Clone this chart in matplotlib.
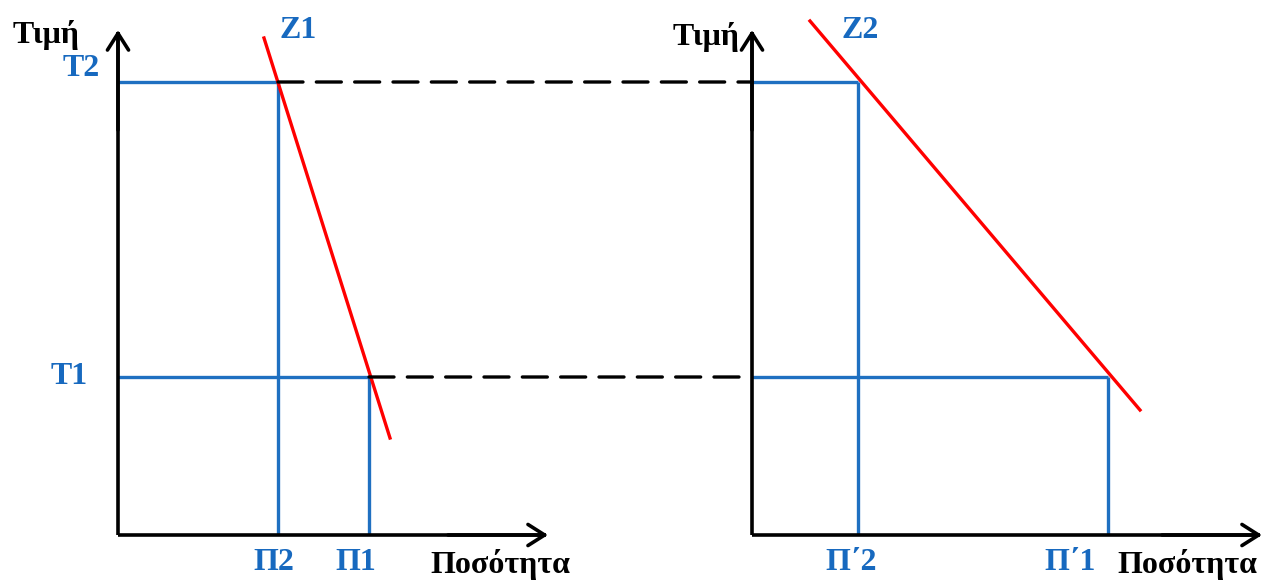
import matplotlib
matplotlib.use("Agg")
import matplotlib.pyplot as plt
from matplotlib.patches import ConnectionPatch

# ---- data (diagram units) ----
price_levels = [1.58, 4.53]            # T1, T2
price_labels = ["T1", "T2"]
qty_left = [2.51, 1.60]                # Π1, Π2 (at T1, T2)
qty_left_labels = ["Π1", "Π2"]
qty_right = [3.56, 1.06]               # Π΄1, Π΄2 (at T1, T2)
qty_right_labels = ["Π΄1", "Π΄2"]
demand1_q = [1.46, 2.72]               # Z1 endpoints
demand1_p = [4.97, 0.97]
demand2_q = [0.58, 3.88]               # Z2 endpoints
demand2_p = [5.14, 1.25]
axis_top = 5.05
xaxis_end_left = 4.30
xaxis_end_right = 5.10

BLUE = "#1f70c1"
LBLUE = "#1769bf"
RED = "#ff0000"
FONT = "Liberation Serif"
LW = 2.4

fig = plt.figure(figsize=(12.66, 5.8), dpi=100)
axL = fig.add_axes([0, 0, 0.5, 1])
axR = fig.add_axes([0.5, 0, 0.5, 1])
axL.set_xlim(-1.18, 5.15)
axR.set_xlim(-1.19, 5.14)
for ax in (axL, axR):
    ax.set_ylim(-0.45, 5.35)
    ax.axis("off")

head = dict(arrowstyle="->,head_length=0.6,head_width=0.38", color="black",
            lw=2.6, mutation_scale=20, shrinkA=0, shrinkB=0)

def draw_axes(ax, xend):
    ax.plot([0, 0], [0, axis_top - 0.02], color="black", lw=2.6, solid_capstyle="butt", zorder=3)
    ax.plot([0, xend - 0.02], [0, 0], color="black", lw=2.6, solid_capstyle="butt", zorder=3)
    ax.annotate("", xy=(0, axis_top), xytext=(0, axis_top - 1), arrowprops=head)
    ax.annotate("", xy=(xend, 0), xytext=(xend - 1, 0), arrowprops=head)

def draw_panel(ax, qtys):
    for p, q in zip(price_levels, qtys):
        ax.plot([0, q], [p, p], color=BLUE, lw=LW, zorder=2, solid_capstyle="butt")
        ax.plot([q, q], [p, 0], color=BLUE, lw=LW, zorder=2, solid_capstyle="butt")

draw_axes(axL, xaxis_end_left)
draw_axes(axR, xaxis_end_right)
draw_panel(axL, qty_left)
draw_panel(axR, qty_right)

axL.plot(demand1_q, demand1_p, color=RED, lw=LW, zorder=4)
axR.plot(demand2_q, demand2_p, color=RED, lw=LW, zorder=4)

# dashed connections between panels
for p, q in zip(price_levels, qty_left):
    con = ConnectionPatch(xyA=(q, p), coordsA=axL.transData,
                          xyB=(0, p), coordsB=axR.transData,
                          color="black", lw=LW, linestyle=(0, (7.5, 4)), zorder=1)
    fig.add_artist(con)

tk = dict(fontfamily=FONT, fontweight="bold", fontsize=23)

# price labels (left panel only)
axL.text(-0.30, price_levels[0], price_labels[0], color=LBLUE, ha="right", va="center", **tk)
axL.text(-0.18, price_levels[1] + 0.14, price_labels[1], color=LBLUE, ha="right", va="center", **tk)

# quantity labels
left_offsets = [-0.13, -0.04]
right_offsets = [-0.38, -0.07]
for q, lab, off in zip(qty_left, qty_left_labels, left_offsets):
    axL.text(q + off, -0.27, lab, color=LBLUE, ha="center", va="center", **tk)
for q, lab, off in zip(qty_right, qty_right_labels, right_offsets):
    axR.text(q + off, -0.27, lab, color=LBLUE, ha="center", va="center", **tk)

# demand labels
axL.text(1.80, 5.04, "Z1", color=LBLUE, ha="center", va="center", **tk)
axR.text(1.08, 5.04, "Z2", color=LBLUE, ha="center", va="center", **tk)

# axis titles
axL.text(-0.38, 5.00, "Τιμή", color="black", ha="right", va="center", **tk)
axR.text(-0.12, 4.98, "Τιμή", color="black", ha="right", va="center", **tk)
axL.text(3.12, -0.30, "Ποσότητα", color="black", ha="left", va="center", **tk)
axR.text(3.65, -0.30, "Ποσότητα", color="black", ha="left", va="center", **tk)

fig.savefig("out.png", dpi=100)
